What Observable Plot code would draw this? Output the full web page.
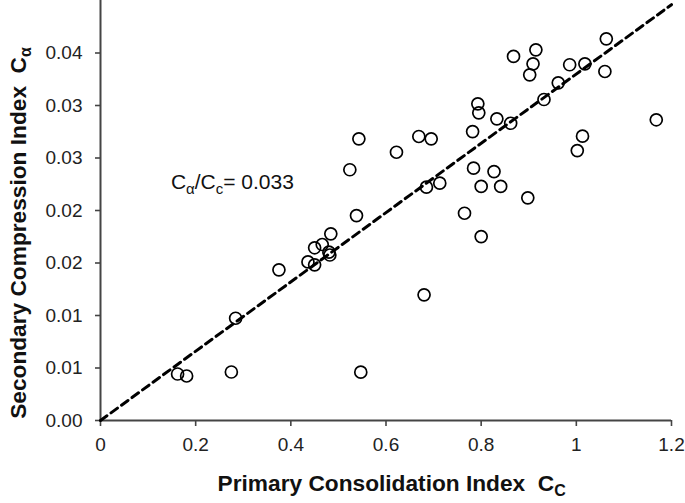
<!DOCTYPE html>
<html><head><meta charset="utf-8">
<script src="https://cdn.jsdelivr.net/npm/d3@7"></script>
<script src="https://cdn.jsdelivr.net/npm/@observablehq/plot@0.6"></script>
<style>body{margin:0;background:#fff}</style>
</head><body><div id="chart"></div>
<script>
// Primary consolidation index Cc (x) and secondary compression index Cα (y)
const cc = [0.162,0.181,0.275,0.284,0.375,0.436,0.450,0.450,0.466,0.480,0.482,0.484,0.538,0.524,0.543,0.547,
            0.622,0.669,0.695,0.685,0.713,0.680,0.765,0.782,0.784,0.793,0.795,0.800,0.800,0.827,0.833,0.841,
            0.862,0.868,0.898,0.902,0.909,0.915,0.932,0.962,0.986,1.002,1.013,1.018,1.063,1.060,1.168];
const ca = [0.00443,0.00424,0.00462,0.00974,0.01435,0.0151,0.01483,0.01645,0.01676,0.01603,0.01576,0.01778,0.01952,0.02388,0.02683,0.0046,
            0.02555,0.02705,0.02683,0.02222,0.0226,0.01197,0.01974,0.02752,0.02403,0.03016,0.0293,0.02229,0.01752,0.02371,0.02873,0.02229,
            0.02831,0.03467,0.02121,0.03292,0.03397,0.0353,0.03057,0.03216,0.03388,0.02571,0.02708,0.03397,0.03635,0.03324,0.02864];
const xTicks = [0,0.2,0.4,0.6,0.8,1,1.2];
const xTickLabels = ["0","0.2","0.4","0.6","0.8","1","1.2"];
const yTicks = [0,0.005,0.01,0.015,0.02,0.025,0.03,0.035];
const yTickLabels = ["0.00","0.01","0.01","0.02","0.02","0.03","0.03","0.04"];
const fitSlope = 0.033;          // Cα/Cc
const fitX = [0, 1.2];
const annX = 0.149, annY = 0.022;

const points = cc.map((x, i) => ({x, y: ca[i]}));
const fitLine = fitX.map(x => ({x, y: fitSlope * x}));

const FONT = "'Liberation Sans', Arial, sans-serif";

const svg = Plot.plot({
  width: 685, height: 503,
  marginLeft: 100, marginRight: 14, marginTop: 0, marginBottom: 83,
  style: {fontFamily: FONT, fontSize: "19px", color: "#222", background: "white", overflow: "visible"},
  x: {domain: [0, 1.2]},
  y: {domain: [0, 0.04]},
  marks: [
    Plot.axisX({ticks: xTicks, tickFormat: d => xTickLabels[xTicks.indexOf(d)], tickSize: 6, tickPadding: 10.5,
                label: null, stroke: "#444", strokeWidth: 1.6, fill: "#222"}),
    Plot.axisY({ticks: yTicks, tickFormat: d => yTickLabels[yTicks.indexOf(d)], tickSize: 5, tickPadding: 13,
                label: null, stroke: "#444", strokeWidth: 1.6, fill: "#222"}),
    Plot.ruleY([0], {stroke: "#444", strokeWidth: 2}),
    Plot.ruleX([0], {stroke: "#444", strokeWidth: 2}),
    Plot.line(fitLine, {x: "x", y: "y", stroke: "black", strokeWidth: 3, strokeDasharray: "8,5"}),
    Plot.dot(points, {x: "x", y: "y", r: 6, stroke: "black", strokeWidth: 1.7, fill: "none"})
  ]
});

document.getElementById("chart").appendChild(svg);
const s = d3.select(svg);
const sx = svg.scale("x"), sy = svg.scale("y");

// x axis label
const xl = s.append("text").attr("x", 391.7).attr("y", 491).attr("text-anchor", "middle")
  .style("font-family", FONT).style("font-weight", "bold").style("font-size", "22.7px").style("white-space", "pre").attr("fill", "#111");
xl.append("tspan").text("Primary Consolidation Index  C");
xl.append("tspan").attr("dy", 5).style("font-size", "16px").text("C");
// y axis label
const yl = s.append("text").attr("transform", "translate(25.5,233) rotate(-90)").attr("text-anchor", "middle")
  .style("font-family", FONT).style("font-weight", "bold").style("font-size", "22.7px").style("white-space", "pre").attr("fill", "#111");
yl.append("tspan").text("Secondary Compression Index  C");
yl.append("tspan").attr("dy", 5).style("font-size", "16px").text("α");
// annotation
const at = s.append("text").attr("x", sx.apply(annX)).attr("y", sy.apply(annY)).attr("text-anchor", "start")
  .style("font-family", FONT).style("font-size", "21px").attr("fill", "#111");
at.append("tspan").text("C");
at.append("tspan").attr("dy", 5).style("font-size", "15px").text("α");
at.append("tspan").attr("dy", -5).text("/C");
at.append("tspan").attr("dy", 5).style("font-size", "15px").text("c");
at.append("tspan").attr("dy", -5).text("= 0.033");
</script>
</body></html>
